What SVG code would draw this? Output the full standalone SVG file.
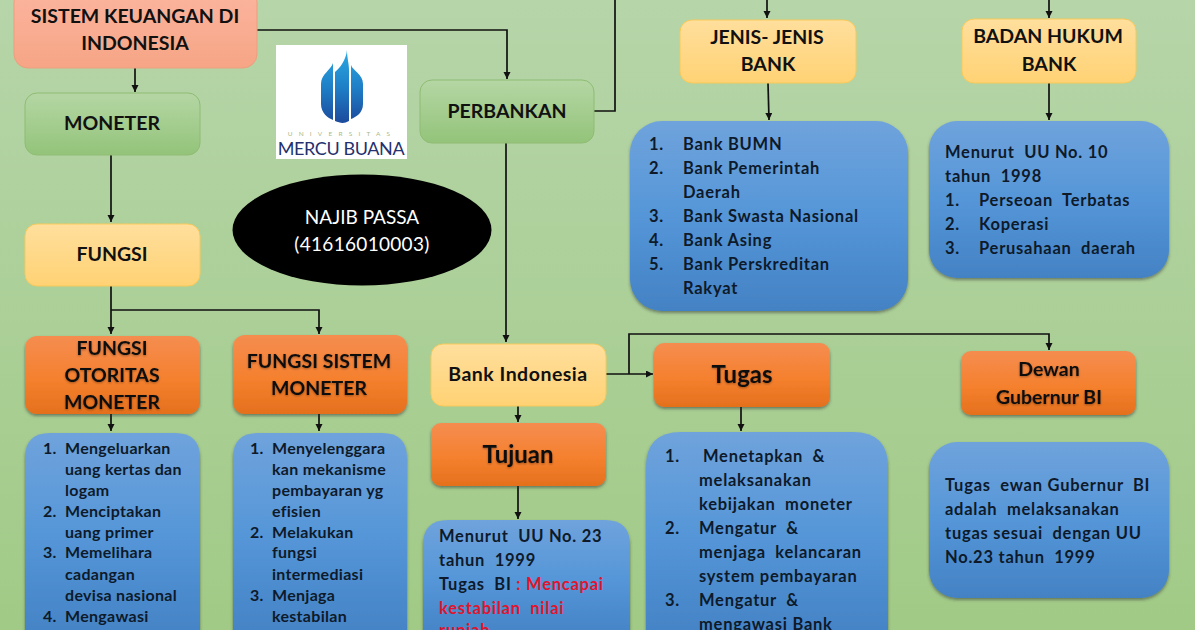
<svg xmlns="http://www.w3.org/2000/svg" width="1200" height="630" viewBox="0 0 1200 630">
<style>
text{font-family:Lato,"Liberation Sans",sans-serif;fill:#111;font-weight:700;white-space:pre}
.c{text-anchor:middle}
.h{font-size:19.500px}
.o{font-size:19.500px;filter:url(#ts)}
.l{font-size:16px;fill:#0e1a2a;letter-spacing:.3px}
.m{font-size:16.500px;fill:#0e1a2a;letter-spacing:.75px}
.w{stroke:#111;stroke-width:1.7;fill:none}
.a{marker-end:url(#ah)}
.gb{fill:url(#green);stroke:#8fbc72}
.yb{fill:url(#yellow);stroke:#f7c95a}
.ob{fill:url(#orange);filter:url(#sh)}
.bb{fill:url(#blue);filter:url(#sh)}
</style>
<defs>
<linearGradient id="bg" x1="0" y1="0" x2="0" y2="1"><stop offset="0" stop-color="#b6d5a9"/><stop offset="1" stop-color="#a1ca86"/></linearGradient>
<linearGradient id="salmon" x1="0" y1="0" x2="0" y2="1"><stop offset="0" stop-color="#fcb5a0"/><stop offset="1" stop-color="#f6a585"/></linearGradient>
<linearGradient id="green" x1="0" y1="0" x2="0" y2="1"><stop offset="0" stop-color="#b5d6a4"/><stop offset="1" stop-color="#93c47a"/></linearGradient>
<linearGradient id="yellow" x1="0" y1="0" x2="0" y2="1"><stop offset="0" stop-color="#ffdf9d"/><stop offset="1" stop-color="#ffd274"/></linearGradient>
<linearGradient id="orange" x1="0" y1="0" x2="0" y2="1"><stop offset="0" stop-color="#f58d50"/><stop offset=".55" stop-color="#f5802e"/><stop offset="1" stop-color="#e5701d"/></linearGradient>
<linearGradient id="blue" x1="0" y1="0" x2="0" y2="1"><stop offset="0" stop-color="#6fa3dc"/><stop offset=".5" stop-color="#5596d8"/><stop offset="1" stop-color="#4382c4"/></linearGradient>
<linearGradient id="logo" gradientUnits="userSpaceOnUse" x1="0" y1="50" x2="0" y2="123"><stop offset="0" stop-color="#2ba9e1"/><stop offset=".5" stop-color="#1f80c8"/><stop offset="1" stop-color="#1c4a9c"/></linearGradient>
<filter id="sh" x="-10%" y="-10%" width="120%" height="120%"><feDropShadow dx="0" dy="2" stdDeviation="1.5" flood-color="#333" flood-opacity=".5"/></filter>
<filter id="ts" x="-10%" y="-20%" width="120%" height="140%"><feDropShadow dx="0" dy="1" stdDeviation="1" flood-color="#000" flood-opacity=".35"/></filter>
<marker id="ah" markerUnits="userSpaceOnUse" markerWidth="8" markerHeight="8" refX="7" refY="3.500" orient="auto"><path d="M0 0L7 3.500L0 7z" fill="#111"/></marker>
</defs>
<rect width="1200" height="630" fill="#fff"/>
<rect width="1195" height="630" fill="url(#bg)"/>
<g id="connectors">
<path class="w a" d="M135 68V92"/>
<path class="w a" d="M257 30H507V79"/>
<path class="w a" d="M111 155V222"/>
<path class="w a" d="M111 286V334"/>
<path class="w a" d="M111 310H319V334"/>
<path class="w a" d="M111 414V431"/>
<path class="w a" d="M319 414V431"/>
<path class="w" d="M594 111H615V0"/>
<path class="w a" d="M506 143V342"/>
<path class="w a" d="M767 0V18"/>
<path class="w a" d="M768 83L769 120"/>
<path class="w a" d="M1049 0V18"/>
<path class="w a" d="M1049 83V120"/>
<path class="w a" d="M606 374H653"/>
<path class="w a" d="M629 374V334H1049V350"/>
<path class="w a" d="M518 406V422"/>
<path class="w a" d="M518 486V519"/>
<path class="w a" d="M741 407V431"/>
</g>
<g id="sistem"><rect x="14" y="-12" width="243" height="80" rx="14" fill="url(#salmon)" stroke="#eb9f7e"/>
<text class="h c" x="135" y="23">SISTEM KEUANGAN DI</text><text class="h c" x="135" y="50">INDONESIA</text></g>
<g id="moneter"><rect class="gb" x="25" y="93" width="175" height="62" rx="12"/><text class="h c" x="112" y="130">MONETER</text></g>
<g id="fungsi"><rect class="yb" x="25" y="224" width="175" height="62" rx="12"/><text class="h c" x="112" y="261">FUNGSI</text></g>
<g id="logo-umb"><rect x="276" y="45" width="131" height="114" fill="#fff"/>
<path d="M333 63C331 70 321 74 321 84V104C321 113 328 118 333 120Z" fill="url(#logo)"/>
<path d="M335 72C340 68 346 60 347 50C347 58 349 63 349 70V121C344 124 340 123 335 121Z" fill="url(#logo)"/>
<path d="M351 65C353 71 363 74 363 84V104C363 113 356 117 351 119Z" fill="url(#logo)"/>
<text class="c" x="342" y="136" style="font-size:6.500px;letter-spacing:6.200px;fill:#a9b98a;font-weight:400">UNIVERSITAS</text>
<text class="c" x="341" y="155" style="font-size:18px;fill:#25306f;font-weight:400;letter-spacing:-.4px">MERCU BUANA</text></g>
<g id="najib"><ellipse cx="362" cy="230" rx="129.500" ry="55.500" fill="#000"/>
<text class="c" x="362" y="224" style="fill:#fff;font-size:19px;font-weight:400">NAJIB PASSA</text><text class="c" x="362" y="251" style="fill:#fff;font-size:19px;font-weight:400;letter-spacing:.3px">(41616010003)</text></g>
<g id="otoritas"><rect class="ob" x="25" y="336" width="175" height="78" rx="12"/>
<text class="o c" x="112" y="355">FUNGSI</text><text class="o c" x="112" y="382">OTORITAS</text><text class="o c" x="112" y="409">MONETER</text></g>
<g id="sistem-moneter"><rect class="ob" x="233" y="335" width="174" height="79" rx="12"/>
<text class="o c" x="319" y="368">FUNGSI SISTEM</text><text class="o c" x="319" y="395">MONETER</text></g>
<g id="list-otoritas"><path class="bb" d="M25 640V458Q25 433 50 433H175Q200 433 200 458V640Z"/>
<text class="l" x="43" y="454">1.</text><text class="l" x="65" y="454">Mengeluarkan</text><text class="l" x="65" y="475">uang kertas dan</text><text class="l" x="65" y="496">logam</text>
<text class="l" x="43" y="517">2.</text><text class="l" x="65" y="517">Menciptakan</text><text class="l" x="65" y="538">uang primer</text>
<text class="l" x="43" y="558">3.</text><text class="l" x="65" y="558">Memelihara</text><text class="l" x="65" y="580">cadangan</text><text class="l" x="65" y="601">devisa nasional</text>
<text class="l" x="43" y="622">4.</text><text class="l" x="65" y="622">Mengawasi</text></g>
<g id="list-sistem"><path class="bb" d="M233 640V458Q233 433 258 433H382Q407 433 407 458V640Z"/>
<text class="l" x="250" y="454">1.</text><text class="l" x="272" y="454">Menyelenggara</text><text class="l" x="272" y="475">kan mekanisme</text><text class="l" x="272" y="496">pembayaran yg</text><text class="l" x="272" y="517">efisien</text>
<text class="l" x="250" y="538">2.</text><text class="l" x="272" y="538">Melakukan</text><text class="l" x="272" y="558">fungsi</text><text class="l" x="272" y="580">intermediasi</text>
<text class="l" x="250" y="601">3.</text><text class="l" x="272" y="601">Menjaga</text><text class="l" x="272" y="622">kestabilan</text></g>
<g id="perbankan"><rect class="gb" x="420" y="80" width="174" height="63" rx="12"/><text class="h c" x="507" y="118">PERBANKAN</text></g>
<g id="jenis"><rect class="yb" x="680" y="20" width="176" height="63" rx="12"/><text class="h c" x="767" y="44">JENIS- JENIS</text><text class="h c" x="768" y="71">BANK</text></g>
<g id="badan"><rect class="yb" x="962" y="19" width="174" height="64" rx="12"/><text class="h c" x="1048" y="43">BADAN HUKUM</text><text class="h c" x="1049" y="71">BANK</text></g>
<g id="list-jenis"><rect class="bb" x="630" y="121" width="278" height="190" rx="32"/>
<text class="m" x="649" y="150">1.</text><text class="m" x="683" y="150">Bank BUMN</text>
<text class="m" x="649" y="174">2.</text><text class="m" x="683" y="174">Bank Pemerintah</text><text class="m" x="683" y="198">Daerah</text>
<text class="m" x="649" y="222">3.</text><text class="m" x="683" y="222">Bank Swasta Nasional</text>
<text class="m" x="649" y="246">4.</text><text class="m" x="683" y="246">Bank Asing</text>
<text class="m" x="649" y="270">5.</text><text class="m" x="683" y="270">Bank Perskreditan</text><text class="m" x="683" y="294">Rakyat</text></g>
<g id="list-badan"><rect class="bb" x="929" y="121" width="240" height="157" rx="28"/>
<text class="m" x="945" y="158">Menurut  UU No. 10</text><text class="m" x="945" y="182">tahun  1998</text>
<text class="m" x="945" y="206">1.</text><text class="m" x="979" y="206">Perseoan  Terbatas</text>
<text class="m" x="945" y="230">2.</text><text class="m" x="979" y="230">Koperasi</text>
<text class="m" x="945" y="254">3.</text><text class="m" x="979" y="254">Perusahaan  daerah</text></g>
<g id="bank-indonesia"><rect class="yb" x="431" y="344" width="175" height="62" rx="12"/><text class="c" x="518" y="381" style="font-size:19.500px;letter-spacing:.5px">Bank Indonesia</text></g>
<g id="tujuan"><rect class="ob" x="431" y="423" width="175" height="63" rx="10"/><text class="c" x="518" y="463" style="font-size:24px;filter:url(#ts)">Tujuan</text></g>
<g id="tugas"><rect class="ob" x="654" y="343" width="176" height="64" rx="10"/><text class="c" x="742" y="383" style="font-size:24px;filter:url(#ts)">Tugas</text></g>
<g id="dewan"><rect class="ob" x="961" y="351" width="175" height="64" rx="10"/><text class="o c" x="1049" y="376">Dewan</text><text class="o c" x="1049" y="404">Gubernur BI</text></g>
<g id="list-tujuan"><path class="bb" d="M423 640V545Q423 520 448 520H605Q630 520 630 545V640Z"/>
<text class="m" x="439" y="542">Menurut  UU No. 23</text><text class="m" x="439" y="566">tahun  1999</text>
<text class="m" x="439" y="590">Tugas  BI <tspan fill="#e0142d">: Mencapai</tspan></text><text class="m" x="439" y="614" style="fill:#e0142d">kestabilan  nilai</text><text class="m" x="439" y="636" style="fill:#e0142d">rupiah</text></g>
<g id="list-tugas"><path class="bb" d="M646 640V467Q646 432 681 432H853Q888 432 888 467V640Z"/>
<text class="m" x="665" y="462">1.</text><text class="m" x="703" y="462">Menetapkan  &amp;</text><text class="m" x="699" y="486">melaksanakan</text><text class="m" x="699" y="510">kebijakan  moneter</text>
<text class="m" x="665" y="534">2.</text><text class="m" x="699" y="534">Mengatur  &amp;</text><text class="m" x="699" y="558">menjaga  kelancaran</text><text class="m" x="699" y="582">system pembayaran</text>
<text class="m" x="665" y="606">3.</text><text class="m" x="699" y="606">Mengatur  &amp;</text><text class="m" x="699" y="630">mengawasi Bank</text></g>
<g id="list-dewan"><rect class="bb" x="929" y="442" width="240" height="156" rx="28"/>
<text class="m" x="945" y="491">Tugas  ewan Gubernur  BI</text><text class="m" x="945" y="515">adalah  melaksanakan</text><text class="m" x="945" y="539">tugas sesuai  dengan UU</text><text class="m" x="945" y="563">No.23 tahun  1999</text></g>
</svg>
